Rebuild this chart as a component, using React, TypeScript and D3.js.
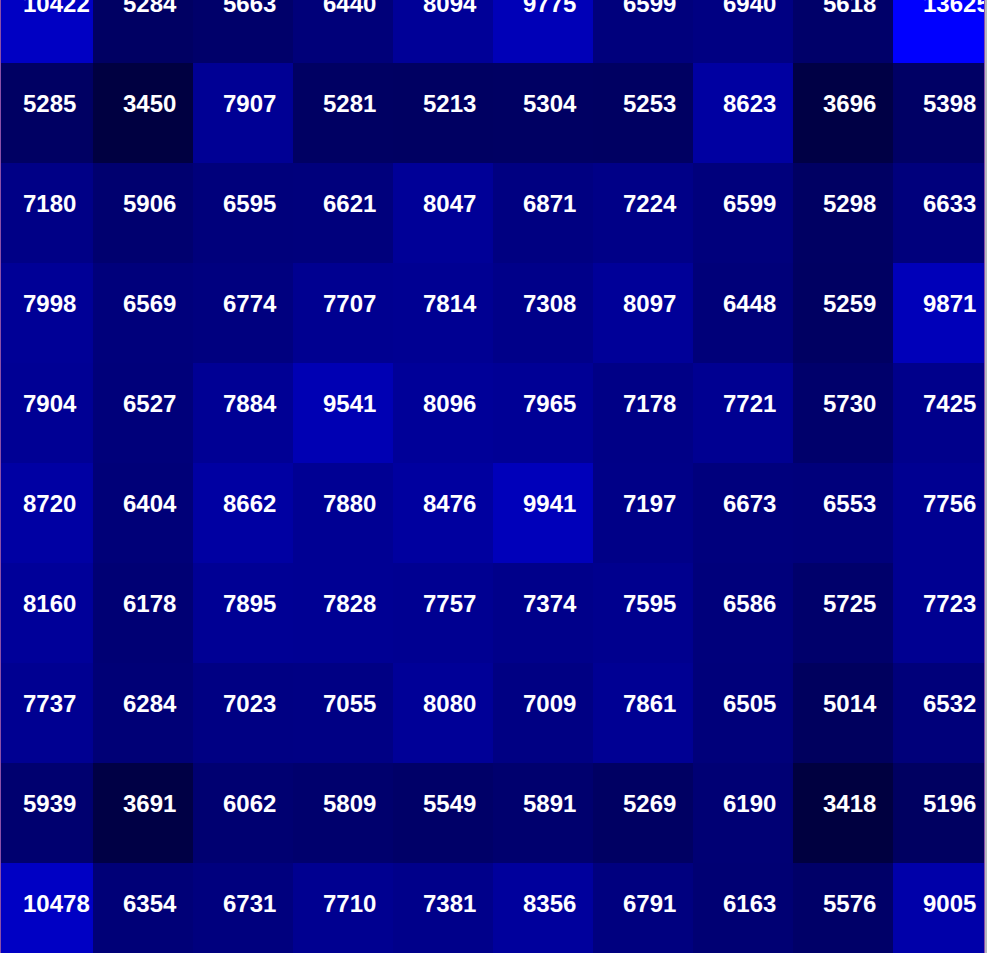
import React from "react";
import * as d3 from "d3";

const columns = ["c0", "c1", "c2", "c3", "c4", "c5", "c6", "c7", "c8", "c9"];
const rowNames = ["r0", "r1", "r2", "r3", "r4", "r5", "r6", "r7", "r8", "r9"];

const row0 = [10422, 5284, 5663, 6440, 8094, 9775, 6599, 6940, 5618, 13625];
const row1 = [5285, 3450, 7907, 5281, 5213, 5304, 5253, 8623, 3696, 5398];
const row2 = [7180, 5906, 6595, 6621, 8047, 6871, 7224, 6599, 5298, 6633];
const row3 = [7998, 6569, 6774, 7707, 7814, 7308, 8097, 6448, 5259, 9871];
const row4 = [7904, 6527, 7884, 9541, 8096, 7965, 7178, 7721, 5730, 7425];
const row5 = [8720, 6404, 8662, 7880, 8476, 9941, 7197, 6673, 6553, 7756];
const row6 = [8160, 6178, 7895, 7828, 7757, 7374, 7595, 6586, 5725, 7723];
const row7 = [7737, 6284, 7023, 7055, 8080, 7009, 7861, 6505, 5014, 6532];
const row8 = [5939, 3691, 6062, 5809, 5549, 5891, 5269, 6190, 3418, 5196];
const row9 = [10478, 6354, 6731, 7710, 7381, 8356, 6791, 6163, 5576, 9005];

const rows = [row0, row1, row2, row3, row4, row5, row6, row7, row8, row9];

const W = 987;
const H = 953;

export default function App() {
  const x = d3.scaleBand<string>().domain(columns).range([-7, 993]).padding(0);
  const y = d3.scaleBand<string>().domain(rowNames).range([-37, 963]).padding(0);
  const maxV = d3.max(rows.flat()) as number;
  const color = d3.scaleLinear<string>().domain([0, maxV]).range(["#000000", "#0000ff"]);
  const bw = x.bandwidth();
  const bh = y.bandwidth();

  return (
    <div style={{ position: "fixed", left: 0, top: 0, width: W, height: H, background: "#ffffff" }}>
      <svg width={W} height={H} style={{ display: "block" }}>
        <defs>
          <clipPath id="plotClip">
            <rect x={1} y={0} width={983} height={H} />
          </clipPath>
        </defs>
        <rect x={985} y={0} width={2} height={H} fill="#b8b8c0" />
        <g clipPath="url(#plotClip)">
          {rows.map((r, ri) =>
            r.map((v, ci) => (
              <rect
                key={`c-${ri}-${ci}`}
                x={x(columns[ci])}
                y={y(rowNames[ri])}
                width={bw + 0.5}
                height={bh + 0.5}
                fill={color(v)}
              />
            ))
          )}
          {rows.map((r, ri) =>
            r.map((v, ci) => (
              <text
                key={`t-${ri}-${ci}`}
                x={(x(columns[ci]) as number) + 30}
                y={(y(rowNames[ri]) as number) + bh / 2 - 1}
                textAnchor="start"
                fill="#ffffff"
                fontFamily="'Liberation Sans', Arial, sans-serif"
                fontWeight="bold"
                fontSize={24}
              >
                {v}
              </text>
            ))
          )}
        </g>
        <rect x={0} y={0} width={1} height={H} fill="#8a4fa8" />
        <rect x={984} y={0} width={1} height={H} fill="#8a4fa8" />
      </svg>
    </div>
  );
}
